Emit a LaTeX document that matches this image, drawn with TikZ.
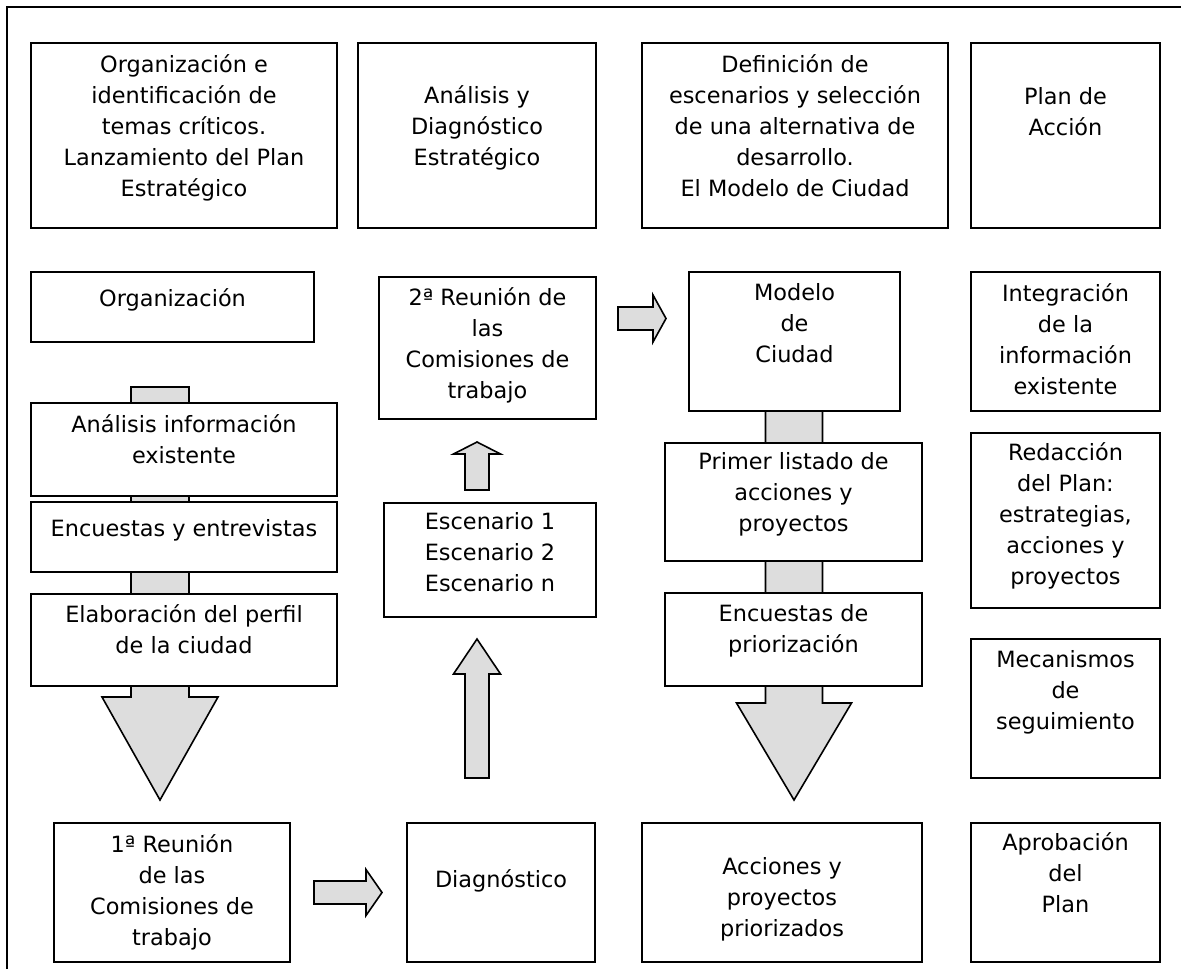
\documentclass[tikz,border=0pt]{standalone}
\usepackage{fontspec}
\setmainfont{DejaVu Sans}
\usetikzlibrary{calc,backgrounds}
\definecolor{gris}{RGB}{221,221,221}
\newcommand\fuente{\fontsize{11.2}{15.5}\selectfont}

\begin{document}
\begin{tikzpicture}[x=0.5pt,y=-0.5pt,
   caja/.style 2 args={draw,fill=white,line width=1pt,inner sep=0pt,
      minimum width=#1*0.5pt,minimum height=#2*0.5pt},
   txt/.style={anchor=north,inner sep=0pt,align=center,font=\fuente,
      execute at begin node=\strut,yshift={-(#1-21.7)*0.5pt}},
   txt/.default=34,
   flecha/.style n args={3}{draw,fill=gris,line width=0.8pt,
      to path={($(\tikztostart)!#1!-90:(\tikztotarget)$)
         -- ($(\tikztotarget)!#3!(\tikztostart)!#1!90:(\tikztostart)$)
         -- ($(\tikztotarget)!#3!(\tikztostart)!#2!90:(\tikztostart)$)
         -- (\tikztotarget)
         -- ($(\tikztotarget)!#3!(\tikztostart)!#2!-90:(\tikztostart)$)
         -- ($(\tikztotarget)!#3!(\tikztostart)!#1!-90:(\tikztostart)$)
         -- ($(\tikztostart)!#1!90:(\tikztotarget)$) -- cycle}}]
\useasboundingbox (0,0) rectangle (1181,969);
\draw[line width=1pt] (7,969) -- (7,6.5) -- (1181,6.5);

% fases
\node[caja={306}{185},label={[txt]north:{Organización e\\identificación de\\temas críticos.\\Lanzamiento del Plan\\Estratégico}}] (fase1) at (184,135.5) {};
\node[caja={238}{185},label={[txt=65]north:{Análisis y\\Diagnóstico\\Estratégico}}] (fase2) at (477,135.5) {};
\node[caja={306}{185},label={[txt]north:{Definición de\\escenarios y selección\\de una alternativa de\\desarrollo.\\El Modelo de Ciudad}}] (fase3) at (795,135.5) {};
\node[caja={189}{185},label={[txt=67]north:{Plan de\\Acción}}] (fase4) at (1065.5,135.5) {};

% columna 1
\node[caja={283}{70},label={[txt=35]north:{Organización}}] (org) at (172.5,307) {};
\node[caja={306}{93},label={[txt]north:{Análisis información\\existente}}] (analisis) at (184,449.5) {};
\node[caja={306}{70},label={[txt=35]north:{Encuestas y entrevistas}}] (encuestas) at (184,537) {};
\node[caja={306}{92},label={[txt=33]north:{Elaboración del perfil\\de la ciudad}}] (perfil) at (184,640) {};
\node[caja={236}{139},label={[txt]north:{1ª Reunión\\de las\\Comisiones de\\trabajo}}] (reunion1) at (172,892.5) {};

% columna 2
\node[caja={217}{142},label={[txt=33]north:{2ª Reunión de\\las\\Comisiones de\\trabajo}}] (reunion2) at (487.5,348) {};
\node[caja={212}{114},label={[txt=32]north:{Escenario 1\\Escenario 2\\Escenario n}}] (escenarios) at (490,560) {};
\node[caja={188}{139},label={[txt=65]north:{Diagnóstico}}] (diagnostico) at (501,892.5) {};

% columna 3
\node[caja={211}{139},label={[txt]north:{Modelo\\de\\Ciudad}}] (modelo) at (794.5,341.5) {};
\node[caja={257}{118},label={[txt=32]north:{Primer listado de\\acciones y\\proyectos}}] (listado) at (793.5,502) {};
\node[caja={257}{93},label={[txt]north:{Encuestas de\\priorización}}] (priorizacion) at (793.5,639.5) {};
\node[caja={280}{139},label={[txt=57]north:{Acciones y\\proyectos\\priorizados}}] (acciones) at (782,892.5) {};

% columna 4
\node[caja={189}{139},label={[txt]north:{Integración\\de la\\información\\existente}}] (integracion) at (1065.5,341.5) {};
\node[caja={189}{175},label={[txt=32]north:{Redacción\\del Plan:\\estrategias,\\acciones y\\proyectos}}] (redaccion) at (1065.5,520.5) {};
\node[caja={189}{139},label={[txt]north:{Mecanismos\\de\\seguimiento}}] (seguimiento) at (1065.5,708.5) {};
\node[caja={189}{139},label={[txt=32]north:{Aprobación\\del\\Plan}}] (aprobacion) at (1065.5,892.5) {};

% flechas
\coordinate (ini1) at (160,387);   \coordinate (fin1) at (160,800);
\coordinate (ini2) at (794,411);   \coordinate (fin2) at (794,800);
\coordinate (ini3) at (477,778);   \coordinate (fin3) at (477,639);
\coordinate (ini4) at (477,490);   \coordinate (fin4) at (477,442);
\coordinate (ini5) at (618,318.5); \coordinate (fin5) at (666,318.5);
\begin{scope}[on background layer]
\draw[flecha={14.5pt}{29pt}{51.5pt}] (ini1) to (fin1);
\draw[flecha={14.25pt}{28.75pt}{48.5pt}] (ini2) to (fin2);
\end{scope}
\draw[flecha={6pt}{11.75pt}{17.5pt}] (ini3) to (fin3);
\draw[flecha={6pt}{11.75pt}{6pt}] (ini4) to (fin4);
\draw[flecha={5.75pt}{11.75pt}{6.5pt}] (ini5) to (fin5);
\draw[flecha={5.75pt}{11.5pt}{8pt}] ($(reunion1.east)+(23,0)$) to ($(diagnostico.west)+(-24,0)$);
\end{tikzpicture}
\end{document}
